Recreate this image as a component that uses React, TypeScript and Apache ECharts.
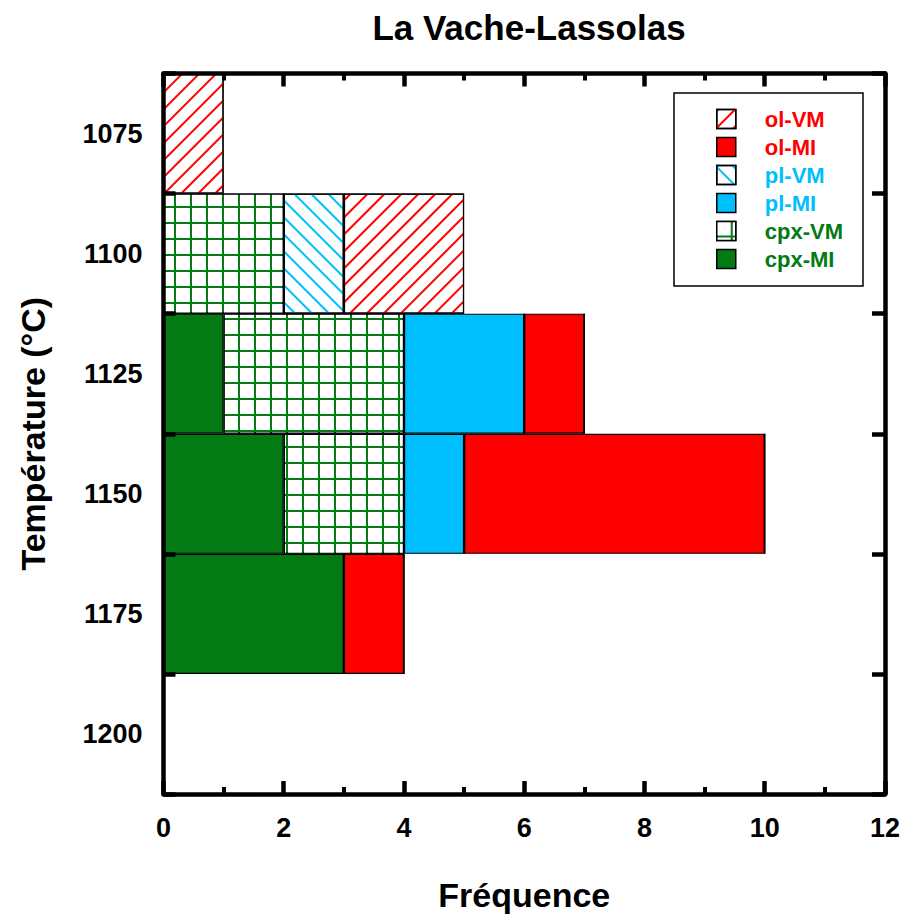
import React, { useEffect, useRef } from "react";
import * as echarts from "echarts";

const temperatures = ["1075", "1100", "1125", "1150", "1175", "1200"];
const xTicks = { min: 0, max: 12, interval: 2 };

const cpxMI = [0, 0, 1, 2, 3, 0];
const cpxVM = [0, 2, 3, 2, 0, 0];
const plMI = [0, 0, 2, 1, 0, 0];
const plVM = [0, 1, 0, 0, 0, 0];
const olMI = [0, 0, 1, 5, 1, 0];
const olVM = [1, 2, 0, 0, 0, 0];

const legendOrder = ["ol-VM", "ol-MI", "pl-VM", "pl-MI", "cpx-VM", "cpx-MI"];

const RED = "#ff0000";
const CYAN = "#00bfff";
const GREEN = "#037a14";
const FONT = "Liberation Sans";

export default function App() {
  const ref = useRef<HTMLDivElement>(null);
  useEffect(() => {
    if (!ref.current) return;
    const chart = echarts.init(ref.current, null, { renderer: "svg" });

    const hatch = (color: string, rotation: number) => ({
      symbol: "rect",
      symbolSize: 1,
      symbolKeepAspect: false,
      color,
      dashArrayX: [1, 0],
      dashArrayY: [1.2, 9.8],
      rotation,
    });
    const grid = {
      symbol: "rect",
      symbolSize: 1,
      symbolKeepAspect: false,
      color: "#ffffff",
      dashArrayX: [14, 2],
      dashArrayY: [14, 2],
      rotation: 0,
    };

    const border = { borderColor: "#000", borderWidth: 1.2 };
    const mk = (name: string, data: number[], itemStyle: any) => ({
      name,
      type: "bar",
      stack: "all",
      xAxisIndex: 0,
      yAxisIndex: 0,
      barCategoryGap: "0%",
      data,
      itemStyle: { ...border, ...itemStyle },
      emphasis: { disabled: true },
    });

    const colorOf: Record<string, string> = {
      "ol-VM": RED,
      "ol-MI": RED,
      "pl-VM": CYAN,
      "pl-MI": CYAN,
      "cpx-VM": GREEN,
      "cpx-MI": GREEN,
    };

    const axisLine = { show: true, onZero: false, lineStyle: { color: "#000", width: 4.5 } };
    const labelStyle = { fontFamily: FONT, fontWeight: "bold", fontSize: 27, color: "#000" };
    const nameStyle = { fontFamily: FONT, fontWeight: "bold", fontSize: 34, color: "#000" };

    chart.setOption({
      animation: false,
      backgroundColor: "#fff",
      title: {
        text: "La Vache-Lassolas",
        left: 524,
        top: 5,
        textAlign: "center",
        textStyle: { fontFamily: FONT, fontWeight: "bold", fontSize: 35, color: "#000" },
      },
      legend: {
        orient: "vertical",
        left: 674,
        top: 93,
        padding: [15, 20, 16, 42],
        itemGap: 6,
        itemWidth: 19,
        itemHeight: 19,
        icon: "rect",
        borderColor: "#000",
        borderWidth: 1.5,
        backgroundColor: "#fff",
        itemStyle: { borderColor: "#000", borderWidth: 1.5 },
        textStyle: { fontFamily: FONT, fontWeight: "bold", fontSize: 22, lineHeight: 21, padding: [0, 0, 0, 24] },
        data: legendOrder.map((n) => ({ name: n, textStyle: { color: colorOf[n] } })),
        selectedMode: false,
      },
      grid: { left: 163.5, right: 18, top: 73.5, bottom: 126, containLabel: false },
      xAxis: [
        {
          type: "value",
          position: "bottom",
          min: xTicks.min,
          max: xTicks.max,
          interval: xTicks.interval,
          z: 5,
          axisLine,
          axisTick: { show: true, inside: true, length: 13, lineStyle: { color: "#000", width: 4.5 } },
          minorTick: { show: true, splitNumber: 2, length: 7, lineStyle: { color: "#000", width: 4 } },
          splitLine: { show: false },
          axisLabel: { ...labelStyle, margin: 20 },
          name: "Fréquence",
          nameLocation: "middle",
          nameGap: 84,
          nameTextStyle: nameStyle,
        },
        {
          type: "value",
          position: "top",
          min: xTicks.min,
          max: xTicks.max,
          interval: xTicks.interval,
          z: 5,
          axisLine,
          axisTick: { show: true, inside: true, length: 13, lineStyle: { color: "#000", width: 4.5 } },
          minorTick: { show: true, splitNumber: 2, length: 7, lineStyle: { color: "#000", width: 4 } },
          splitLine: { show: false },
          axisLabel: { show: false },
        },
      ],
      yAxis: [
        {
          type: "category",
          position: "left",
          inverse: true,
          data: temperatures,
          z: 5,
          axisLine,
          axisTick: { show: true, inside: true, length: 12, alignWithLabel: false, lineStyle: { color: "#000", width: 4.5 } },
          axisLabel: { ...labelStyle, margin: 21 },
          splitLine: { show: false },
          name: "Température (°C)",
          nameLocation: "middle",
          nameRotate: 90,
          nameGap: 114,
          nameTextStyle: nameStyle,
        },
        {
          type: "category",
          position: "right",
          inverse: true,
          data: temperatures,
          z: 5,
          axisLine,
          axisTick: { show: true, inside: true, length: 13, alignWithLabel: false, lineStyle: { color: "#000", width: 4.5 } },
          axisLabel: { show: false },
          splitLine: { show: false },
        },
      ],
      series: [
        mk("cpx-MI", cpxMI, { color: GREEN }),
        mk("cpx-VM", cpxVM, { color: GREEN, decal: grid }),
        mk("pl-MI", plMI, { color: CYAN }),
        mk("pl-VM", plVM, { color: "#fff", decal: hatch(CYAN, Math.PI / 4) }),
        mk("ol-MI", olMI, { color: RED }),
        mk("ol-VM", olVM, { color: "#fff", decal: hatch(RED, -Math.PI / 4) }),
      ],
    });
    return () => chart.dispose();
  }, []);
  return (
    <div
      ref={ref}
      style={{ position: "absolute", left: 0, top: 0, width: 903, height: 920 }}
    />
  );
}
